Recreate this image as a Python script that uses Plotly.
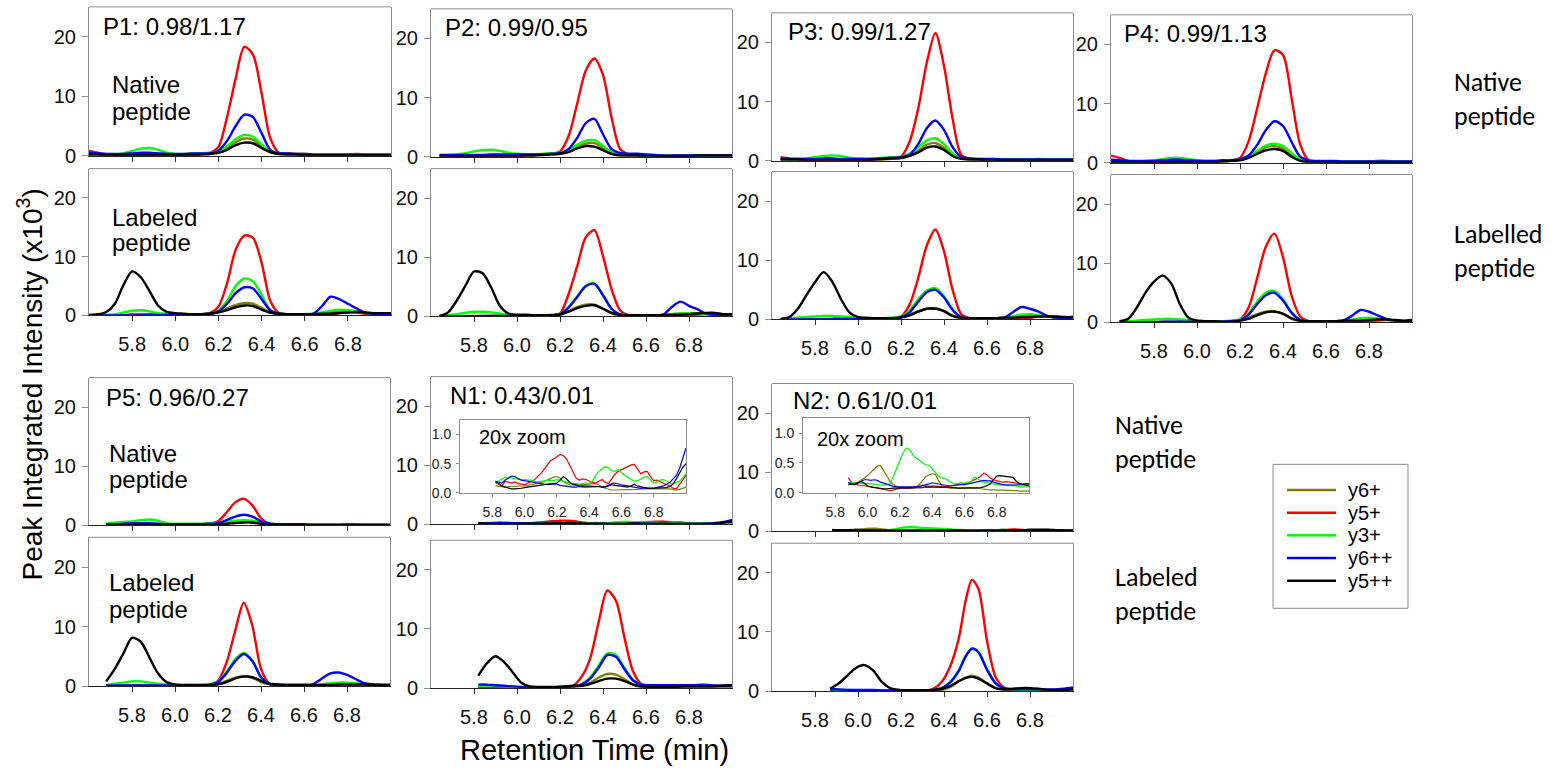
import plotly.graph_objects as go

W, H = 1558, 779

# ---------------- sampling times (min) ----------------
TIME = [5.60, 5.64, 5.68, 5.72, 5.76, 5.80, 5.84, 5.88, 5.92, 5.96, 6.00, 6.04,
        6.08, 6.12, 6.16, 6.20, 6.24, 6.28, 6.32, 6.36, 6.40, 6.44, 6.48, 6.52,
        6.56, 6.60, 6.64, 6.68, 6.72, 6.76, 6.80, 6.84, 6.88, 6.92, 6.96, 7.00]
TIME_N1 = [5.82, 5.86, 5.90, 5.94, 5.98, 6.02, 6.06, 6.10, 6.14, 6.18, 6.22, 6.26,
           6.30, 6.34, 6.38, 6.42, 6.46, 6.50, 6.54, 6.58, 6.62, 6.66, 6.70, 6.74,
           6.78, 6.82, 6.86, 6.90, 6.94, 7.00]
TIME_N2 = [5.87, 5.91, 5.95, 5.99, 6.03, 6.07, 6.11, 6.15, 6.19, 6.23, 6.27, 6.31,
           6.35, 6.39, 6.43, 6.47, 6.50, 6.53, 6.56, 6.60, 6.64, 6.68, 6.72, 6.76,
           6.80, 6.84, 6.88, 6.92, 6.96, 7.00]
TIME_N1_FINE = [5.82, 5.84, 5.86, 5.88, 5.90, 5.92, 5.94, 5.96, 5.98, 6.00, 6.02, 6.04,
                6.06, 6.08, 6.10, 6.12, 6.14, 6.16, 6.18, 6.20, 6.22, 6.24, 6.26, 6.28,
                6.30, 6.32, 6.34, 6.36, 6.38, 6.40, 6.42, 6.44, 6.46, 6.48, 6.50, 6.52,
                6.54, 6.56, 6.58, 6.60, 6.62, 6.64, 6.66, 6.68, 6.70, 6.72, 6.74, 6.76,
                6.78, 6.80, 6.82, 6.84, 6.86, 6.88, 6.90, 6.92, 6.94, 6.96, 6.98, 7.00]
TIME_N2_FINE = [5.88, 5.90, 5.92, 5.94, 5.96, 5.98, 6.00, 6.02, 6.04, 6.06, 6.08, 6.10,
                6.12, 6.14, 6.16, 6.18, 6.20, 6.22, 6.24, 6.26, 6.28, 6.30, 6.32, 6.34,
                6.36, 6.38, 6.40, 6.42, 6.44, 6.46, 6.48, 6.50, 6.52, 6.54, 6.56, 6.58,
                6.60, 6.62, 6.64, 6.66, 6.68, 6.70, 6.72, 6.74, 6.76, 6.78, 6.80, 6.82,
                6.84, 6.86, 6.88, 6.90, 6.92, 6.94, 6.96, 6.98, 7.00]

ION_NAMES = ["y6+", "y5+", "y3+", "y6++", "y5++"]
ION_COLORS = ["#808000", "#ff0000", "#00ff00", "#0000ff", "#000000"]

X_TICKS = [5.8, 6.0, 6.2, 6.4, 6.6, 6.8]
X_TICK_TEXT = ["5.8", "6.0", "6.2", "6.4", "6.6", "6.8"]
Y_TICKS = [0, 10, 20]
ZOOM_Y_TICKS = [0, 0.5, 1.0]
ZOOM_Y_TICK_TEXT = ["0.0", "0.5", "1.0"]

PANEL_TITLES = ["P1: 0.98/1.17", "P2: 0.99/0.95", "P3: 0.99/1.27", "P4: 0.99/1.13",
                "P5: 0.96/0.27", "N1: 0.43/0.01", "N2: 0.61/0.01"]

# ---------------- extracted ion chromatograms (x10^3) ----------------
# P1
P1_NAT_Y6 = [0.1,0.1,0.1,0.1,0.1,0.1,0.2,0.2,0.2,0.2,0.2,0.2,0.2,0.2,0.3,0.6,1.3,2.3,2.9,2.7,1.6,0.6,0.3,0.2,0.2,0.1,0.1,0.1,0.1,0.1,0.1,0.1,0.1,0.1,0.1,0.1]
P1_NAT_Y5 = [0.8,0.5,0.2,0.1,0.1,0.1,0.1,0.2,0.2,0.2,0.2,0.2,0.3,0.3,0.5,1.5,6.5,13.0,18.3,17.0,10.5,3.0,0.5,0.4,0.3,0.3,0.2,0.2,0.2,0.2,0.2,0.3,0.2,0.2,0.2,0.2]
P1_NAT_Y3 = [0.2,0.1,0.1,0.2,0.4,0.8,1.2,1.3,1.0,0.5,0.3,0.3,0.4,0.4,0.5,0.8,1.6,2.8,3.5,3.2,1.9,0.7,0.4,0.3,0.3,0.2,0.2,0.2,0.2,0.2,0.2,0.2,0.2,0.2,0.2,0.2]
P1_NAT_Y6D = [0.5,0.4,0.3,0.3,0.3,0.4,0.5,0.5,0.4,0.3,0.3,0.3,0.4,0.4,0.4,0.9,2.5,5.0,6.9,6.5,3.8,1.0,0.4,0.4,0.3,0.3,0.2,0.2,0.2,0.2,0.2,0.2,0.2,0.2,0.2,0.2]
P1_NAT_Y5D = [0.2,0.2,0.1,0.1,0.1,0.1,0.1,0.1,0.1,0.1,0.1,0.1,0.1,0.2,0.3,0.5,1.0,1.8,2.2,2.1,1.3,0.6,0.3,0.2,0.2,0.1,0.1,0.1,0.1,0.1,0.1,0.1,0.1,0.1,0.1,0.1]
P1_LAB_Y6 = [0.0,0.0,0.0,0.1,0.1,0.2,0.2,0.2,0.2,0.2,0.2,0.2,0.2,0.2,0.3,0.6,1.2,1.8,2.1,2.0,1.3,0.5,0.2,0.2,0.2,0.2,0.2,0.3,0.5,0.7,0.8,0.7,0.5,0.3,0.2,0.2]
P1_LAB_Y5 = [0.0,0.0,0.0,0.0,0.0,0.1,0.1,0.1,0.1,0.1,0.1,0.1,0.1,0.2,0.4,1.5,5.5,11.2,13.6,13.2,9.0,2.5,0.4,0.2,0.1,0.1,0.1,0.1,0.2,0.4,0.6,0.5,0.3,0.2,0.2,0.2]
P1_LAB_Y3 = [0.0,0.0,0.1,0.2,0.5,0.8,0.9,0.7,0.4,0.3,0.2,0.2,0.2,0.2,0.3,0.8,2.5,5.0,6.3,5.8,3.5,0.9,0.3,0.2,0.2,0.2,0.3,0.5,0.8,1.0,0.9,0.7,0.4,0.3,0.2,0.2]
P1_LAB_Y6D = [0.0,0.0,0.0,0.0,0.0,0.0,0.0,0.1,0.1,0.1,0.1,0.1,0.1,0.2,0.3,0.7,2.0,3.8,4.8,4.6,2.8,0.9,0.3,0.2,0.2,0.2,0.3,1.6,3.2,2.8,2.0,1.2,0.5,0.3,0.3,0.3]
P1_LAB_Y5D = [0.1,0.2,0.6,2.0,5.2,7.5,6.5,4.2,1.7,0.6,0.4,0.3,0.2,0.2,0.3,0.5,0.9,1.4,1.7,1.6,1.0,0.5,0.3,0.2,0.2,0.2,0.2,0.3,0.3,0.4,0.5,0.6,0.5,0.4,0.4,0.4]
# P2
P2_NAT_Y6 = [None,0.1,0.1,0.1,0.1,0.1,0.1,0.1,0.1,0.1,0.1,0.2,0.2,0.3,0.4,0.5,0.9,1.6,2.2,2.3,1.5,0.6,0.3,0.2,0.2,0.1,0.1,0.1,0.1,0.1,0.1,0.1,0.1,0.1,0.1,0.1]
P2_NAT_Y5 = [None,0.3,0.2,0.2,0.2,0.2,0.2,0.2,0.2,0.2,0.2,0.3,0.3,0.4,0.5,0.9,3.5,9.0,14.6,16.6,13.8,6.6,1.3,0.4,0.3,0.3,0.2,0.2,0.2,0.2,0.2,0.2,0.2,0.2,0.2,0.2]
P2_NAT_Y3 = [None,0.2,0.3,0.4,0.6,0.9,1.1,1.2,1.0,0.7,0.5,0.4,0.4,0.5,0.6,0.7,1.2,2.0,2.7,2.8,1.8,0.8,0.4,0.3,0.3,0.2,0.2,0.2,0.2,0.2,0.2,0.2,0.2,0.2,0.2,0.2]
P2_NAT_Y6D = [None,0.3,0.3,0.3,0.3,0.3,0.3,0.4,0.4,0.4,0.4,0.4,0.4,0.4,0.5,0.6,1.3,3.2,5.7,6.4,3.8,1.3,0.6,0.5,0.5,0.4,0.3,0.2,0.2,0.2,0.2,0.2,0.2,0.2,0.2,0.2]
P2_NAT_Y5D = [None,0.1,0.1,0.1,0.1,0.1,0.1,0.1,0.1,0.1,0.1,0.2,0.2,0.3,0.4,0.5,0.8,1.4,1.8,1.7,1.1,0.5,0.2,0.2,0.2,0.1,0.1,0.1,0.1,0.1,0.1,0.2,0.2,0.2,0.2,0.2]
P2_LAB_Y6 = [None,0.0,0.0,0.1,0.1,0.1,0.1,0.1,0.1,0.1,0.1,0.1,0.1,0.2,0.2,0.4,0.9,1.6,2.0,2.0,1.3,0.5,0.2,0.2,0.2,0.2,0.2,0.3,0.4,0.5,0.5,0.5,0.4,0.3,0.2,0.2]
P2_LAB_Y5 = [None,0.0,0.0,0.0,0.0,0.0,0.0,0.1,0.1,0.1,0.1,0.1,0.1,0.1,0.2,0.5,3.8,8.5,13.4,14.6,10.2,4.6,1.0,0.2,0.1,0.1,0.1,0.1,0.1,0.1,0.2,0.3,0.4,0.3,0.2,0.2]
P2_LAB_Y3 = [None,0.1,0.2,0.4,0.6,0.8,0.8,0.7,0.5,0.3,0.2,0.2,0.2,0.2,0.3,0.5,1.6,3.4,5.2,5.6,3.5,1.2,0.3,0.2,0.2,0.2,0.2,0.3,0.4,0.5,0.5,0.4,0.4,0.3,0.2,0.2]
P2_LAB_Y6D = [None,0.0,0.0,0.0,0.0,0.0,0.1,0.1,0.1,0.1,0.1,0.1,0.1,0.1,0.2,0.4,1.5,3.3,5.1,5.5,3.6,1.3,0.3,0.2,0.2,0.2,0.2,0.3,1.6,2.5,1.8,1.2,0.5,0.3,0.3,0.3]
P2_LAB_Y5D = [None,0.1,0.7,2.7,5.2,7.6,7.3,4.9,1.8,0.5,0.3,0.3,0.2,0.2,0.2,0.3,0.8,1.4,1.8,1.9,1.3,0.6,0.3,0.2,0.2,0.2,0.2,0.2,0.3,0.3,0.4,0.5,0.6,0.6,0.4,0.4]
# P3
P3_NAT_Y6 = [None,0.1,0.1,0.1,0.1,0.1,0.2,0.2,0.2,0.2,0.2,0.2,0.2,0.2,0.3,0.4,0.8,1.7,2.7,3.0,2.2,0.9,0.3,0.2,0.2,0.1,0.1,0.1,0.1,0.1,0.1,0.1,0.1,0.1,0.1,0.1]
P3_NAT_Y5 = [None,0.6,0.4,0.3,0.2,0.2,0.2,0.2,0.2,0.2,0.2,0.2,0.3,0.3,0.4,0.7,3.2,8.8,16.6,21.6,16.0,7.1,1.0,0.3,0.2,0.2,0.2,0.2,0.2,0.2,0.2,0.3,0.2,0.2,0.2,0.2]
P3_NAT_Y3 = [None,0.2,0.2,0.3,0.4,0.6,0.8,0.9,0.8,0.5,0.4,0.3,0.4,0.5,0.6,0.7,1.2,2.3,3.4,3.8,2.8,1.2,0.4,0.3,0.3,0.2,0.2,0.2,0.2,0.2,0.2,0.2,0.2,0.2,0.2,0.2]
P3_NAT_Y6D = [None,0.4,0.3,0.3,0.3,0.3,0.4,0.4,0.3,0.3,0.3,0.3,0.3,0.4,0.5,0.6,1.0,2.8,5.5,6.8,5.2,2.3,0.6,0.4,0.3,0.3,0.3,0.2,0.2,0.2,0.2,0.2,0.2,0.2,0.2,0.2]
P3_NAT_Y5D = [None,0.2,0.2,0.2,0.1,0.1,0.1,0.1,0.1,0.1,0.1,0.1,0.2,0.3,0.4,0.5,0.8,1.4,2.2,2.4,1.8,0.8,0.3,0.2,0.2,0.1,0.1,0.1,0.1,0.1,0.1,0.1,0.1,0.1,0.1,0.1]
P3_LAB_Y6 = [None,0.0,0.0,0.1,0.1,0.1,0.1,0.1,0.1,0.1,0.1,0.1,0.1,0.2,0.2,0.4,0.8,1.4,1.8,1.9,1.4,0.6,0.2,0.1,0.1,0.1,0.2,0.2,0.3,0.5,0.6,0.6,0.5,0.3,0.2,0.2]
P3_LAB_Y5 = [None,0.0,0.0,0.0,0.0,0.0,0.0,0.0,0.0,0.0,0.1,0.1,0.1,0.1,0.2,0.5,2.5,7.0,12.5,15.2,11.5,5.0,0.9,0.2,0.1,0.1,0.1,0.1,0.1,0.2,0.3,0.5,0.6,0.4,0.2,0.2]
P3_LAB_Y3 = [None,0.1,0.2,0.3,0.4,0.5,0.6,0.6,0.5,0.4,0.3,0.2,0.2,0.2,0.3,0.5,1.5,3.4,4.9,5.3,3.9,1.7,0.4,0.2,0.2,0.2,0.2,0.3,0.5,0.8,0.9,0.7,0.5,0.3,0.2,0.2]
P3_LAB_Y6D = [None,0.0,0.0,0.0,0.0,0.0,0.0,0.1,0.1,0.1,0.1,0.1,0.1,0.1,0.2,0.4,1.2,3.0,4.6,5.0,3.7,1.6,0.4,0.2,0.2,0.2,0.2,0.3,1.2,2.1,1.8,1.3,0.6,0.3,0.2,0.2]
P3_LAB_Y5D = [None,0.1,0.4,1.8,4.1,6.3,8.0,6.4,3.5,1.2,0.4,0.3,0.2,0.2,0.2,0.3,0.7,1.3,1.8,1.8,1.4,0.6,0.3,0.2,0.2,0.2,0.2,0.3,0.3,0.4,0.4,0.5,0.5,0.5,0.4,0.4]
# P4
P4_NAT_Y6 = [0.1,0.1,0.1,0.1,0.1,0.1,0.2,0.2,0.2,0.2,0.2,0.2,0.2,0.2,0.3,0.5,0.9,1.8,2.6,2.8,2.4,1.3,0.4,0.2,0.1,0.1,0.1,0.1,0.1,0.1,0.1,0.1,0.1,0.1,0.1,0.1]
P4_NAT_Y5 = [1.2,0.8,0.3,0.2,0.1,0.1,0.1,0.2,0.2,0.2,0.2,0.2,0.2,0.3,0.4,0.8,3.6,9.2,15.1,19.0,18.2,10.9,3.1,0.4,0.2,0.2,0.2,0.2,0.2,0.2,0.2,0.3,0.3,0.2,0.2,0.2]
P4_NAT_Y3 = [0.2,0.2,0.2,0.2,0.3,0.4,0.6,0.8,0.8,0.6,0.4,0.3,0.3,0.4,0.4,0.6,1.0,2.0,2.9,3.2,2.8,1.6,0.5,0.3,0.2,0.2,0.2,0.2,0.2,0.2,0.2,0.2,0.2,0.2,0.2,0.2]
P4_NAT_Y6D = [0.5,0.4,0.3,0.3,0.3,0.3,0.4,0.5,0.5,0.4,0.3,0.3,0.3,0.4,0.4,0.6,1.2,3.0,5.5,7.0,6.2,3.5,1.0,0.4,0.3,0.3,0.3,0.2,0.2,0.2,0.2,0.2,0.2,0.2,0.2,0.2]
P4_NAT_Y5D = [0.1,0.1,0.1,0.1,0.1,0.1,0.1,0.1,0.1,0.1,0.1,0.1,0.1,0.2,0.3,0.4,0.8,1.5,2.1,2.3,2.0,1.0,0.3,0.1,0.1,0.1,0.1,0.1,0.1,0.1,0.1,0.1,0.1,0.1,0.1,0.1]
P4_LAB_Y6 = [None,0.0,0.0,0.1,0.1,0.1,0.1,0.1,0.1,0.1,0.1,0.1,0.1,0.2,0.2,0.4,0.8,1.4,1.8,1.9,1.4,0.6,0.2,0.1,0.1,0.1,0.2,0.2,0.3,0.4,0.5,0.5,0.5,0.3,0.2,0.2]
P4_LAB_Y5 = [None,0.0,0.0,0.0,0.0,0.0,0.0,0.0,0.1,0.1,0.1,0.1,0.1,0.1,0.2,0.5,2.5,7.5,12.8,15.0,11.0,4.5,1.0,0.2,0.1,0.1,0.1,0.1,0.1,0.1,0.2,0.3,0.4,0.3,0.2,0.1]
P4_LAB_Y3 = [None,0.1,0.2,0.3,0.4,0.5,0.6,0.6,0.5,0.4,0.3,0.2,0.2,0.2,0.3,0.5,1.5,3.5,5.0,5.3,3.9,1.7,0.4,0.2,0.2,0.2,0.2,0.3,0.5,0.7,0.8,0.7,0.5,0.3,0.2,0.2]
P4_LAB_Y6D = [None,0.0,0.0,0.0,0.0,0.0,0.1,0.1,0.1,0.1,0.1,0.1,0.1,0.1,0.2,0.4,1.3,3.1,4.6,5.0,3.7,1.6,0.4,0.2,0.2,0.2,0.2,0.3,1.1,2.1,1.8,1.2,0.6,0.3,0.2,0.2]
P4_LAB_Y5D = [None,0.2,0.6,2.5,5.0,6.9,7.9,6.6,3.1,0.8,0.3,0.2,0.2,0.1,0.1,0.3,0.6,1.2,1.7,1.8,1.5,0.7,0.3,0.2,0.2,0.2,0.2,0.3,0.3,0.3,0.4,0.5,0.5,0.4,0.3,0.4]
# P5
P5_NAT_Y6 = [None,None,0.1,0.1,0.1,0.1,0.1,0.1,0.1,0.1,0.1,0.1,0.1,0.1,0.2,0.2,0.3,0.5,0.6,0.5,0.3,0.1,0.1,0.1,0.1,0.1,0.1,0.1,0.1,0.1,0.1,0.1,0.1,0.1,0.1,0.1]
P5_NAT_Y5 = [None,None,0.1,0.1,0.1,0.1,0.1,0.1,0.1,0.1,0.1,0.1,0.2,0.2,0.3,0.7,2.2,3.9,4.5,3.4,1.2,0.3,0.2,0.2,0.1,0.1,0.1,0.1,0.1,0.1,0.2,0.2,0.1,0.1,0.1,0.1]
P5_NAT_Y3 = [None,None,0.3,0.5,0.6,0.7,0.9,1.0,0.8,0.4,0.3,0.3,0.3,0.3,0.4,0.4,0.6,0.8,0.9,0.8,0.5,0.3,0.2,0.2,0.2,0.2,0.1,0.1,0.1,0.1,0.1,0.1,0.1,0.1,0.1,0.1]
P5_NAT_Y6D = [None,None,0.2,0.2,0.3,0.4,0.4,0.4,0.3,0.2,0.2,0.2,0.2,0.2,0.3,0.4,0.9,1.5,1.8,1.5,0.7,0.3,0.2,0.2,0.2,0.2,0.1,0.1,0.1,0.1,0.1,0.1,0.1,0.1,0.1,0.1]
P5_NAT_Y5D = [None,None,0.1,0.1,0.1,0.1,0.1,0.1,0.1,0.1,0.1,0.1,0.1,0.1,0.1,0.2,0.3,0.4,0.5,0.5,0.3,0.1,0.1,0.1,0.1,0.1,0.1,0.1,0.1,0.1,0.1,0.1,0.1,0.1,0.1,0.1]
P5_LAB_Y6 = [None,None,0.1,0.1,0.1,0.1,0.1,0.1,0.1,0.1,0.1,0.1,0.1,0.1,0.2,0.4,0.9,1.4,1.7,1.4,0.7,0.3,0.2,0.1,0.1,0.1,0.1,0.2,0.3,0.4,0.4,0.4,0.3,0.2,0.2,0.1]
P5_LAB_Y5 = [None,None,0.0,0.0,0.0,0.0,0.0,0.1,0.1,0.1,0.1,0.1,0.1,0.1,0.2,0.9,4.0,9.3,14.0,10.1,2.9,0.4,0.2,0.1,0.1,0.1,0.1,0.1,0.1,0.1,0.2,0.2,0.2,0.1,0.1,0.1]
P5_LAB_Y3 = [None,None,0.2,0.4,0.6,0.8,0.8,0.6,0.4,0.3,0.2,0.2,0.2,0.2,0.3,0.8,2.4,4.5,5.6,4.3,1.5,0.4,0.2,0.2,0.2,0.2,0.2,0.3,0.5,0.6,0.6,0.5,0.4,0.3,0.2,0.2]
P5_LAB_Y6D = [None,None,0.1,0.1,0.1,0.1,0.1,0.1,0.1,0.1,0.1,0.1,0.1,0.1,0.2,0.7,2.2,4.2,5.4,4.2,1.5,0.4,0.2,0.2,0.2,0.2,0.3,1.2,2.1,2.3,1.9,1.2,0.5,0.3,0.2,0.2]
P5_LAB_Y5D = [None,None,0.8,2.9,5.5,8.1,7.5,4.9,2.2,0.7,0.3,0.2,0.2,0.2,0.2,0.3,0.7,1.3,1.6,1.5,0.9,0.4,0.3,0.2,0.2,0.2,0.2,0.2,0.2,0.3,0.3,0.3,0.3,0.2,0.2,0.2]
# N1 native (fine sampling, also used for the 20x zoom)
N1_NAT_Y6 = [0.12,0.11,0.11,0.10,0.11,0.11,0.12,0.12,0.12,0.12,0.13,0.14,0.15,0.16,0.17,0.19,0.22,0.25,0.27,0.28,
             0.25,0.20,0.16,0.14,0.13,0.13,0.14,0.14,0.14,0.15,0.16,0.16,0.14,0.10,0.08,0.06,0.05,0.05,0.05,0.05,
             0.05,0.06,0.06,0.06,0.06,0.07,0.07,0.08,0.08,0.08,0.08,0.07,0.07,0.07,0.07,0.06,0.05,0.06,0.08,0.10]
N1_NAT_Y5 = [0.18,0.15,0.12,0.20,0.18,0.17,0.19,0.16,0.15,0.14,0.17,0.20,0.22,0.28,0.33,0.40,0.48,0.55,0.58,0.62,
             0.66,0.64,0.58,0.47,0.35,0.25,0.22,0.24,0.23,0.20,0.18,0.17,0.20,0.23,0.18,0.16,0.24,0.32,0.37,0.40,
             0.43,0.46,0.48,0.49,0.42,0.33,0.36,0.37,0.28,0.21,0.22,0.19,0.16,0.14,0.12,0.08,0.07,0.15,0.22,0.30]
N1_NAT_Y3 = [0.17,0.20,0.24,0.27,0.25,0.26,0.24,0.25,0.22,0.23,0.22,0.22,0.20,0.19,0.20,0.21,0.22,0.22,0.21,0.23,
             0.22,0.20,0.18,0.16,0.15,0.16,0.15,0.16,0.17,0.16,0.20,0.30,0.37,0.41,0.45,0.43,0.38,0.37,0.40,0.34,
             0.30,0.26,0.23,0.20,0.21,0.24,0.27,0.28,0.22,0.17,0.19,0.22,0.23,0.20,0.17,0.16,0.18,0.20,0.26,0.33]
N1_NAT_Y6D = [0.20,0.18,0.17,0.22,0.26,0.29,0.28,0.24,0.22,0.21,0.20,0.19,0.17,0.16,0.15,0.15,0.14,0.15,0.15,0.15,
              0.13,0.12,0.11,0.10,0.10,0.10,0.11,0.10,0.10,0.10,0.11,0.10,0.10,0.10,0.11,0.13,0.16,0.17,0.15,0.14,
              0.13,0.12,0.10,0.09,0.08,0.08,0.09,0.08,0.08,0.08,0.09,0.10,0.12,0.15,0.18,0.24,0.30,0.42,0.58,0.77]
N1_NAT_Y5D = [0.20,0.16,0.12,0.10,0.08,0.07,0.07,0.07,0.08,0.09,0.10,0.11,0.12,0.13,0.13,0.14,0.15,0.15,0.16,0.17,
              0.22,0.28,0.24,0.18,0.15,0.13,0.12,0.12,0.12,0.12,0.11,0.11,0.11,0.10,0.10,0.12,0.14,0.13,0.12,0.11,
              0.10,0.10,0.12,0.15,0.12,0.10,0.09,0.08,0.08,0.08,0.08,0.08,0.08,0.09,0.11,0.15,0.24,0.34,0.44,0.50]
N1_LAB_Y6 = [0.1,0.1,0.1,0.1,0.1,0.1,0.1,0.1,0.1,0.1,0.1,0.2,0.4,0.9,1.8,2.4,2.3,1.5,0.6,0.2,0.1,0.1,0.1,0.1,0.1,0.1,0.1,0.1,0.1,0.1]
N1_LAB_Y5 = [0.0,0.0,0.0,0.0,0.0,0.0,0.0,0.0,0.0,0.0,0.1,0.4,1.9,5.0,11.2,16.5,14.8,8.5,2.8,0.6,0.2,0.1,0.1,0.1,0.1,0.1,0.1,0.1,0.2,0.3]
N1_LAB_Y3 = [0.4,0.5,0.4,0.3,0.2,0.1,0.1,0.1,0.1,0.1,0.2,0.3,0.7,1.8,3.8,5.9,5.6,3.4,1.4,0.5,0.4,0.3,0.3,0.3,0.3,0.3,0.3,0.3,0.3,0.3]
N1_LAB_Y6D = [0.6,0.6,0.5,0.4,0.3,0.2,0.1,0.1,0.1,0.1,0.2,0.3,0.6,1.6,3.5,5.6,5.3,3.2,1.3,0.6,0.5,0.5,0.5,0.5,0.5,0.5,0.6,0.5,0.4,0.5]
N1_LAB_Y5D = [2.1,4.2,5.4,4.4,2.7,0.9,0.3,0.2,0.2,0.2,0.3,0.4,0.4,0.7,1.2,1.6,1.6,1.2,0.6,0.3,0.2,0.2,0.2,0.2,0.3,0.3,0.3,0.3,0.4,0.5]
# N2 native (fine sampling, also used for the 20x zoom)
N2_NAT_Y6 = [0.15,0.15,0.16,0.18,0.21,0.25,0.29,0.34,0.40,0.45,0.46,0.38,0.28,0.19,0.14,0.11,0.10,0.09,0.08,0.07,
             0.08,0.09,0.14,0.20,0.27,0.30,0.32,0.31,0.20,0.12,0.10,0.09,0.08,0.08,0.09,0.09,0.08,0.08,0.08,0.07,
             0.08,0.07,0.06,0.06,0.05,0.05,0.05,0.05,0.04,0.04,0.05,0.04,0.04,0.03,0.03,0.03,0.03]
N2_NAT_Y5 = [0.25,0.18,0.15,0.13,0.12,0.12,0.11,0.11,0.10,0.09,0.07,0.06,0.05,0.04,0.05,0.07,0.08,0.09,0.08,0.09,
             0.10,0.10,0.11,0.12,0.12,0.11,0.12,0.12,0.11,0.10,0.10,0.11,0.12,0.13,0.14,0.15,0.15,0.17,0.19,0.21,
             0.24,0.28,0.33,0.30,0.25,0.22,0.20,0.19,0.18,0.19,0.18,0.17,0.17,0.16,0.15,0.15,0.15]
N2_NAT_Y3 = [0.17,0.18,0.17,0.16,0.16,0.15,0.16,0.15,0.14,0.13,0.13,0.13,0.14,0.15,0.28,0.42,0.56,0.67,0.75,0.72,
             0.64,0.58,0.55,0.50,0.47,0.46,0.40,0.34,0.28,0.25,0.24,0.21,0.17,0.15,0.16,0.17,0.16,0.18,0.18,0.26,
             0.25,0.19,0.18,0.17,0.15,0.14,0.14,0.13,0.13,0.12,0.12,0.12,0.11,0.11,0.10,0.10,0.10]
N2_NAT_Y6D = [0.18,0.15,0.14,0.17,0.20,0.22,0.22,0.21,0.22,0.21,0.18,0.16,0.14,0.12,0.11,0.10,0.10,0.10,0.09,0.10,
              0.10,0.10,0.11,0.12,0.13,0.15,0.17,0.16,0.14,0.13,0.12,0.12,0.12,0.13,0.13,0.14,0.14,0.15,0.16,0.18,
              0.19,0.20,0.21,0.20,0.20,0.18,0.16,0.15,0.14,0.13,0.13,0.13,0.13,0.14,0.14,0.15,0.15]
N2_NAT_Y5D = [0.14,0.14,0.15,0.17,0.19,0.16,0.12,0.10,0.09,0.08,0.07,0.07,0.07,0.08,0.08,0.08,0.08,0.08,0.08,0.08,
              0.08,0.09,0.09,0.09,0.10,0.10,0.10,0.10,0.10,0.10,0.10,0.10,0.09,0.09,0.08,0.08,0.08,0.08,0.08,0.08,
              0.08,0.09,0.10,0.12,0.15,0.22,0.28,0.29,0.28,0.28,0.27,0.26,0.20,0.16,0.14,0.13,0.12]
N2_LAB_Y6 = [0.1,0.1,0.1,0.1,0.1,0.1,0.1,0.1,0.1,0.1,0.1,0.1,0.1,0.2,0.7,1.7,2.3,2.6,2.3,1.3,0.5,0.2,0.1,0.1,0.1,0.1,0.1,0.1,0.1,0.1]
N2_LAB_Y5 = [0.0,0.0,0.0,0.0,0.0,0.0,0.0,0.0,0.0,0.0,0.0,0.1,0.4,1.6,4.3,9.1,15.2,18.8,17.3,8.5,2.4,0.6,0.2,0.1,0.1,0.1,0.1,0.1,0.1,0.1]
N2_LAB_Y3 = [0.2,0.2,0.2,0.1,0.1,0.1,0.1,0.1,0.1,0.1,0.1,0.1,0.2,0.5,1.6,3.6,5.9,7.1,6.6,3.7,1.4,0.5,0.3,0.2,0.2,0.2,0.2,0.2,0.2,0.3]
N2_LAB_Y6D = [0.3,0.3,0.2,0.2,0.2,0.2,0.1,0.1,0.1,0.1,0.1,0.1,0.2,0.5,1.5,3.5,5.8,7.2,6.6,3.6,1.3,0.5,0.3,0.3,0.3,0.3,0.3,0.3,0.4,0.6]
N2_LAB_Y5D = [0.4,1.3,2.6,3.9,4.4,3.5,1.6,0.5,0.2,0.1,0.1,0.1,0.2,0.4,0.9,1.7,2.2,2.4,2.1,1.3,0.5,0.3,0.4,0.5,0.5,0.4,0.2,0.2,0.2,0.3]

# ---------------- panel table ----------------
# box = (left, right, top, bottom) in page pixels
PANELS = [
    (TIME, [P1_NAT_Y6, P1_NAT_Y5, P1_NAT_Y3, P1_NAT_Y6D, P1_NAT_Y5D], (89, 391, 7, 158), False),
    (TIME, [P1_LAB_Y6, P1_LAB_Y5, P1_LAB_Y3, P1_LAB_Y6D, P1_LAB_Y5D], (89, 391, 171, 320), True),
    (TIME, [P2_NAT_Y6, P2_NAT_Y5, P2_NAT_Y3, P2_NAT_Y6D, P2_NAT_Y5D], (431, 732, 9, 159), False),
    (TIME, [P2_LAB_Y6, P2_LAB_Y5, P2_LAB_Y3, P2_LAB_Y6D, P2_LAB_Y5D], (431, 732, 171, 321), True),
    (TIME, [P3_NAT_Y6, P3_NAT_Y5, P3_NAT_Y3, P3_NAT_Y6D, P3_NAT_Y5D], (772, 1073, 13, 163), False),
    (TIME, [P3_LAB_Y6, P3_LAB_Y5, P3_LAB_Y3, P3_LAB_Y6D, P3_LAB_Y5D], (772, 1073, 174, 324), True),
    (TIME, [P4_NAT_Y6, P4_NAT_Y5, P4_NAT_Y3, P4_NAT_Y6D, P4_NAT_Y5D], (1111, 1412, 15, 165), False),
    (TIME, [P4_LAB_Y6, P4_LAB_Y5, P4_LAB_Y3, P4_LAB_Y6D, P4_LAB_Y5D], (1111, 1412, 177, 327), True),
    (TIME, [P5_NAT_Y6, P5_NAT_Y5, P5_NAT_Y3, P5_NAT_Y6D, P5_NAT_Y5D], (89, 390, 383, 533), False),
    (TIME, [P5_LAB_Y6, P5_LAB_Y5, P5_LAB_Y3, P5_LAB_Y6D, P5_LAB_Y5D], (89, 390, 545, 696), True),
    (TIME_N1_FINE, [N1_NAT_Y6, N1_NAT_Y5, N1_NAT_Y3, N1_NAT_Y6D, N1_NAT_Y5D], (431, 732, 382, 532), False),
    (TIME_N1, [N1_LAB_Y6, N1_LAB_Y5, N1_LAB_Y3, N1_LAB_Y6D, N1_LAB_Y5D], (431, 732, 548, 698), True),
    (TIME_N2_FINE, [N2_NAT_Y6, N2_NAT_Y5, N2_NAT_Y3, N2_NAT_Y6D, N2_NAT_Y5D], (772, 1073, 389, 539), False),
    (TIME_N2, [N2_LAB_Y6, N2_LAB_Y5, N2_LAB_Y3, N2_LAB_Y6D, N2_LAB_Y5D], (772, 1073, 551, 701), True),
]
ZOOM_PANELS = [
    (TIME_N1_FINE, [N1_NAT_Y6, N1_NAT_Y5, N1_NAT_Y3, N1_NAT_Y6D, N1_NAT_Y5D], (460, 686, 426, 500)),
    (TIME_N2_FINE, [N2_NAT_Y6, N2_NAT_Y5, N2_NAT_Y3, N2_NAT_Y6D, N2_NAT_Y5D], (803, 1029, 424, 500)),
]

ARIAL = "Liberation Sans, Arial, sans-serif"
CALIBRI = "Carlito, Lato, sans-serif"
FRAME = "#8c8c8c"


def xdom(l, r):
    return [l / W, r / W]


def ydom(t, b):
    return [1 - b / H, 1 - t / H]


fig = go.Figure()
layout = {}
shapes = []
annotations = []

k = 0
for times, series, (l, r, t, b), labels in PANELS:
    k += 1
    xa, ya = f"x{k}", f"y{k}"
    for name, color, vals in zip(ION_NAMES, ION_COLORS, series):
        fig.add_trace(go.Scatter(
            x=times, y=vals, mode="lines", name=name, showlegend=False,
            line=dict(color=color, width=2.4, shape="spline", smoothing=0.8),
            xaxis=xa, yaxis=ya, hoverinfo="skip"))
    xaxis = dict(
        domain=xdom(l, r), anchor=ya, range=[5.6, 7.0],
        tickmode="array", tickvals=X_TICKS,
        ticks="outside", ticklen=5, tickcolor="#333", tickwidth=1,
        showticklabels=labels,
        showline=True, linecolor="#222", linewidth=1, mirror=False,
        showgrid=False, zeroline=False, fixedrange=True)
    if labels:
        xaxis.update(ticktext=X_TICK_TEXT, ticklabelstandoff=6,
                     tickfont=dict(family=ARIAL, size=20, color="#111"))
    layout[f"xaxis{k}"] = xaxis
    layout[f"yaxis{k}"] = dict(
        domain=ydom(t, b), anchor=xa, range=[0, 25],
        tickmode="array", tickvals=Y_TICKS,
        ticks="outside", ticklen=6, tickcolor=FRAME, tickwidth=1,
        ticklabelstandoff=2,
        tickfont=dict(family=ARIAL, size=20, color="#111"),
        showline=True, linecolor=FRAME, linewidth=1, mirror=True,
        showgrid=False, zeroline=False, fixedrange=True)
    # upper frame edge
    shapes.append(dict(type="line", xref="paper", yref="paper",
                       x0=l / W, x1=r / W, y0=1 - t / H, y1=1 - t / H,
                       line=dict(color=FRAME, width=1)))

for times, series, (l, r, t, b) in ZOOM_PANELS:
    k += 1
    xa, ya = f"x{k}", f"y{k}"
    for name, color, vals in zip(ION_NAMES, ION_COLORS, series):
        fig.add_trace(go.Scatter(
            x=times, y=vals, mode="lines", name=name, showlegend=False,
            line=dict(color=color, width=1.2),
            xaxis=xa, yaxis=ya, hoverinfo="skip"))
    layout[f"xaxis{k}"] = dict(
        domain=xdom(l, r), anchor=ya, range=[5.6, 7.0],
        tickmode="array", tickvals=X_TICKS, ticktext=X_TICK_TEXT,
        ticks="outside", ticklen=3, tickcolor=FRAME, ticklabelstandoff=3,
        tickfont=dict(family=ARIAL, size=14, color="#222"),
        showline=True, linecolor=FRAME, linewidth=1, mirror=True,
        showgrid=False, zeroline=False, fixedrange=True)
    layout[f"yaxis{k}"] = dict(
        domain=ydom(t, b), anchor=xa, range=[0, 1.25],
        tickmode="array", tickvals=ZOOM_Y_TICKS, ticktext=ZOOM_Y_TICK_TEXT,
        ticks="outside", ticklen=3, tickcolor=FRAME, ticklabelstandoff=2,
        tickfont=dict(family=ARIAL, size=14, color="#222"),
        showline=True, linecolor=FRAME, linewidth=1, mirror=True,
        showgrid=False, zeroline=False, fixedrange=True)


def text(s, x, y, size, family=ARIAL, xanchor="left", angle=0):
    annotations.append(dict(
        text=s, xref="paper", yref="paper", x=x / W, y=1 - y / H,
        xanchor=xanchor, yanchor="middle", showarrow=False, textangle=angle,
        font=dict(family=family, size=size, color="#000")))


# panel headers
for s, (x, y) in zip(PANEL_TITLES, [(101, 27), (443, 28), (786, 32), (1122, 33.5),
                                   (104, 403.5), (448, 401), (791, 406)]):
    text(s, x, y, 24)

# labels inside the left-hand panels
text("Native", 110, 86, 24)
text("peptide", 110, 113, 24)
text("Labeled", 110, 221, 24)
text("peptide", 110, 246, 24)
text("Native", 107, 460, 24)
text("peptide", 107, 486, 24)
text("Labeled", 107, 591, 24)
text("peptide", 107, 618, 24)

# zoom captions
text("20x zoom", 477, 443, 20)
text("20x zoom", 815, 445, 20)

# row labels on the right
text("Native", 1452, 83, 26, CALIBRI)
text("peptide", 1452, 118, 26, CALIBRI)
text("Labelled", 1452, 237, 26, CALIBRI)
text("peptide", 1452, 272, 26, CALIBRI)
text("Native", 1113, 431, 26, CALIBRI)
text("peptide", 1113, 466, 26, CALIBRI)
text("Labeled", 1113, 585, 26, CALIBRI)
text("peptide", 1113, 620, 26, CALIBRI)

# axis titles
text("Peak Integrated Intensity (x10<sup>3</sup>)", 31, 390, 28, xanchor="center", angle=-90)
text("Retention Time (min)", 594, 761, 29, xanchor="center")

# legend box
LEG_L, LEG_R, LEG_T, LEG_B = 1273, 1408, 471, 617
shapes.append(dict(type="rect", xref="paper", yref="paper",
                   x0=LEG_L / W, x1=LEG_R / W, y0=1 - LEG_B / H, y1=1 - LEG_T / H,
                   line=dict(color=FRAME, width=1), fillcolor="rgba(0,0,0,0)"))
for i, (name, color) in enumerate(zip(ION_NAMES, ION_COLORS)):
    yy = 497 + 23 * i
    shapes.append(dict(type="line", xref="paper", yref="paper",
                       x0=1287 / W, x1=1336 / W, y0=1 - yy / H, y1=1 - yy / H,
                       line=dict(color=color, width=2.5)))
    text(name, 1346, yy, 20)

layout.update(
    width=W, height=H, margin=dict(l=0, r=0, t=0, b=0),
    paper_bgcolor="white", plot_bgcolor="white",
    showlegend=False, shapes=shapes, annotations=annotations,
)
fig.update_layout(**layout)
fig.write_html("out.html", post_script="document.body.style.margin='0';")
